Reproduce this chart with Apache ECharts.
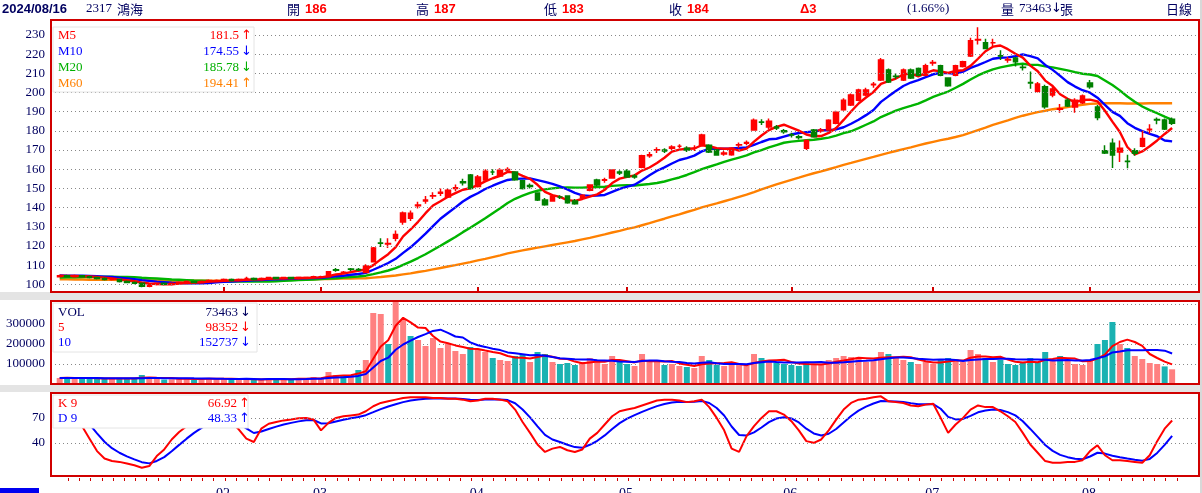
<!DOCTYPE html>
<html>
<head>
<meta charset="utf-8">
<title>2317 鴻海 日線</title>
<script src="https://cdn.jsdelivr.net/npm/echarts@6/dist/echarts.min.js"></script>
<style>
html, body { margin: 0; padding: 0; background: #fff; }
#chart { width: 1202px; height: 493px; }
</style>
</head>
<body>
<div id="chart"></div>
<script>
// 2317 鴻海 日線 2024/01/02 ~ 2024/08/16 (數值由圖上估讀)
var openP = [104,104.5,104,104.5,104,103.5,103,102.5,102.5,101.5,
    101,100.5,99,100,100.5,100,100.5,101,101.5,101,
    101.5,102,102,102.5,102,103,103,102.5,103,103.5,
    103,103.5,103,103.5,103.5,104,104,107.6,106,108,
    107.7,106.2,111.8,121.6,121,124,132.5,134.5,141,143.5,
    146,147.5,145.5,150,153.5,157,151,154.4,158.5,156.5,
    159.6,158.5,154,151.5,147.6,144,143.5,145.5,146,143.5,
    145,149,154.4,154.3,155.4,158.5,159,156.5,161,167,
    170,170,171,172,171,171,172.6,172.5,170,168,
    167.5,172.6,173.5,180.4,184.6,182,182,180,178,177,
    171,180.4,180,180.4,184,191,193.5,196,198.7,204,
    206.5,211.7,208.5,206.5,211.7,212.5,209,215.4,214,207.5,
    209,213.5,219,227.4,226,226,219.2,217,218,213.2,
    205.2,200.7,203,198.7,191.3,196,192.4,194.7,205,192.4,
    169.7,173.6,169,164.2,169.7,172,180.6,185.9,185.7,186];
var closeP = [104.5,104,104.5,104,103.5,103,102.5,102.5,101.5,101,
    100.5,99,100,100.5,100,100.5,101,101.5,101,101.5,
    102,102,102.5,102,102.5,103,102.5,103,103.5,103,
    103.5,103,103.5,103.5,104,104,106.5,107.4,106.3,107.8,
    107.5,109.5,118.9,121.4,121.3,126,137.2,137,141.3,144,
    146.2,148,149,150.3,153,150,156,159,158.5,159.5,
    159.8,154.5,150,151,144,141.5,146,145.5,142.5,142,
    146.5,151.8,151.8,154.5,159.6,158,156,156,167,167.5,
    170.2,169.5,171.6,172,170,171,177.8,169,167.4,168.5,
    171,172.8,174,185.6,184.5,185,181.5,179.5,177.8,176.5,
    175,177,180.4,185.6,189.7,196,198.7,201.3,201.3,204.3,
    217,205.5,208.3,211.7,207.5,209,214,215.6,209,203.5,
    214,216,227,227.6,223,226,219,217.2,216,213,
    205,204.4,192.6,201.8,191.5,193,196,198.2,203,187,
    168.5,167.4,171,164,168.3,176,180.8,185.7,181,184];
var lowP = [103.5,103.5,103.5,103.5,103,102.5,102,102,101,100.5,
    100,98.5,98.5,99.5,99.5,99.5,100,100.5,100.5,100.5,
    101,101.5,101.5,101.5,101.5,102.5,102,102,102.5,102.5,
    102.5,102.5,102.5,103,103,103.5,103.5,106.5,105.5,107,
    107,106,111.5,119.5,119,122.5,131,133,139.5,142,
    144.5,146,145,148.5,151.5,149.5,150.5,154,157,156,
    158.5,154,149.5,150,143.5,141,143,144.5,142,141.5,
    144.5,148.5,151,153,155,157,155.5,155,160.5,166,
    168.5,168.5,170,171,169,169.5,172,168.5,167,167,
    167,171,172.5,180,183,181,180.5,178.5,176.5,175.5,
    170,176.5,179,180,183.5,190.5,193,195.5,198,202.5,
    206,205,207,206,207,208.5,208.5,214,208.5,203,
    208.5,213,218.5,225,222.5,224,217,215.5,213.5,211.5,
    202,200,191.5,197.5,189.5,192.5,189.5,194,202,185.5,
    168,160.6,163.8,160.5,167,171.5,178.5,183.5,180.5,183];
var highP = [105,105,105,104.5,104.5,103.5,103.5,103,102.5,102,
    101.5,100.5,100.5,101,101,101,101.5,102,101.5,102,
    102.5,102.5,103,103,103,104,103.5,103.5,104,104,
    104,104,104,104,104.5,104.5,107,108.5,107,108.5,
    108.5,110.5,119.5,124,124,128,138,138.5,143,146,
    148,150,150,152,155,157.5,157,160,160,160.5,
    161,159,154.5,152.5,148,145,146.5,146.5,146.5,144.5,
    147,152,155,155.5,160,159.5,160,157.5,167.5,169,
    171.5,171,172.5,173,172,172.5,178.5,173,170.5,169.5,
    171.5,174,175,186.5,186,186.5,183,181,179,178,
    175.5,181,181.5,186,190.5,197,199.5,202,202.5,205.5,
    218,212.5,210,212.5,212.5,213,215,217,214.5,208,
    214.5,216.5,228.5,234,228,228,222,218.5,218.5,214.5,
    211,205.5,204,203,194,197,197,199,206.5,193.5,
    172.5,176,175,167.5,171,180,183.5,187,186.5,187];

var ma5 = [104.5,104.4,104.4,104.3,104.1,103.8,103.5,103.1,102.6,102.1,
    101.6,100.9,100.4,100.2,100.0,100.0,100.4,100.7,100.8,101.1,
    101.4,101.6,101.8,102.0,102.2,102.4,102.5,102.6,102.9,103.0,
    103.1,103.2,103.3,103.3,103.5,103.6,104.3,105.1,105.6,106.4,
    107.1,107.7,110.0,113.0,115.7,119.4,125.0,128.6,132.6,137.1,
    141.1,143.3,145.7,147.5,149.3,150.1,151.7,153.7,155.3,156.6,
    158.6,158.3,156.5,155.0,151.9,148.2,146.5,145.6,143.9,143.5,
    144.5,145.7,146.9,149.3,152.8,155.1,156.0,156.8,159.3,160.9,
    163.3,166.0,169.2,170.2,170.7,170.8,172.5,172.0,171.0,170.7,
    170.7,169.7,170.7,174.4,177.6,180.4,182.1,183.2,181.7,180.1,
    178.1,177.2,177.3,178.9,181.5,185.7,190.1,194.3,197.4,200.3,
    204.5,205.9,207.3,209.4,210.0,208.4,210.1,211.6,211.0,210.2,
    211.2,211.6,213.9,217.6,221.5,223.9,224.5,222.6,220.2,218.2,
    214.0,211.1,206.2,203.4,199.1,196.7,195.0,196.1,196.3,195.4,
    190.5,184.8,179.4,171.6,167.8,169.3,172.0,175.0,178.4,181.5];
var ma10 = [104.6,104.5,104.5,104.5,104.4,104.2,104.0,103.8,103.5,103.1,
    102.7,102.2,101.8,101.4,101.1,100.8,100.7,100.6,100.5,100.6,
    100.7,101.0,101.3,101.4,101.7,101.9,102.1,102.2,102.5,102.6,
    102.8,102.9,103.0,103.1,103.3,103.4,103.8,104.2,104.5,105.0,
    105.4,106.0,107.6,109.3,111.1,113.3,116.4,119.3,122.8,126.4,
    130.3,134.2,137.2,140.1,143.2,145.6,147.5,149.7,151.4,153.0,
    154.4,155.0,155.1,155.2,154.3,153.4,152.4,151.1,149.5,147.7,
    146.4,146.1,146.3,146.6,148.2,149.8,150.9,151.9,154.3,156.9,
    159.2,161.0,163.0,164.8,165.8,167.1,169.3,170.6,170.6,170.7,
    170.8,171.1,171.4,172.7,174.2,175.6,175.9,177.0,178.1,178.9,
    179.3,179.7,180.3,180.3,180.8,181.9,183.7,185.8,188.2,190.9,
    195.1,198.0,200.8,203.4,205.2,206.5,208.0,209.5,210.2,210.1,
    209.8,210.9,212.8,214.3,215.9,217.6,218.1,218.3,218.9,219.9,
    219.0,217.8,214.4,211.8,208.7,205.4,203.1,201.2,199.9,197.3,
    193.6,189.9,187.8,184.0,181.6,179.9,178.4,177.2,175.0,174.55];
var ma20 = [103.5,103.6,103.7,103.8,103.9,103.9,104.0,104.0,103.9,103.8,
    103.7,103.4,103.2,103.0,102.8,102.5,102.4,102.2,102.0,101.9,
    101.7,101.6,101.6,101.4,101.4,101.4,101.4,101.4,101.5,101.6,
    101.8,102.0,102.2,102.3,102.5,102.7,103.0,103.2,103.5,103.8,
    104.1,104.5,105.3,106.2,107.2,108.4,110.1,111.8,113.7,115.7,
    117.9,120.1,122.4,124.7,127.2,129.5,132.0,134.5,137.1,139.7,
    142.4,144.6,146.2,147.7,148.8,149.5,150.0,150.4,150.5,150.4,
    150.4,150.6,150.7,150.9,151.3,151.6,151.7,151.5,151.9,152.3,
    152.8,153.6,154.7,155.7,157.0,158.5,160.1,161.3,162.5,163.8,
    165.0,166.1,167.2,168.8,170.0,171.4,172.6,173.8,174.4,174.8,
    175.1,175.4,175.9,176.5,177.5,178.8,179.8,181.4,183.2,184.9,
    187.2,188.9,190.6,191.9,193.0,194.2,195.9,197.7,199.2,200.5,
    202.5,204.5,206.8,208.9,210.6,212.1,213.1,213.9,214.6,215.0,
    214.4,214.4,213.6,213.1,212.3,211.5,210.6,209.8,209.4,208.6,
    206.3,203.9,201.1,197.9,195.2,192.7,190.8,189.2,187.4,185.78];
var ma60 = [102.6,102.6,102.5,102.5,102.4,102.4,102.3,102.3,102.2,102.2,
    102.1,102.1,102.0,102.0,101.9,101.9,101.9,101.9,101.9,101.9,
    101.9,101.9,101.9,102.0,102.0,102.0,102.1,102.1,102.2,102.2,
    102.3,102.3,102.4,102.5,102.6,102.7,102.8,102.9,103.0,103.0,
    103.1,103.2,103.5,103.8,104.2,104.6,105.2,105.7,106.4,107.0,
    107.8,108.5,109.3,110.0,110.8,111.6,112.5,113.3,114.2,115.1,
    116.1,116.9,117.7,118.4,119.1,119.8,120.5,121.2,121.9,122.6,
    123.4,124.2,125.1,126.0,127.0,127.9,128.9,129.7,130.8,131.9,
    133.1,134.2,135.4,136.5,137.7,138.8,140.1,141.2,142.2,143.3,
    144.4,145.6,146.8,148.1,149.5,150.8,152.1,153.3,154.5,155.6,
    156.8,157.9,158.9,160.0,161.1,162.3,163.3,164.4,165.4,166.4,
    167.5,168.5,169.5,170.5,171.4,172.4,173.4,174.3,175.2,175.9,
    176.8,177.8,179.1,180.4,181.7,183.1,184.3,185.5,186.8,187.9,
    188.9,189.8,190.5,191.3,191.8,192.4,193.0,193.6,194.1,194.3,
    194.4,194.4,194.4,194.3,194.3,194.3,194.4,194.4,194.4,194.41];

// 成交量 (千張)
var vol = [30,35,28,25,30,28,25,27,30,26,
    28,45,32,25,22,24,28,30,22,24,
    28,30,25,22,20,28,22,20,30,25,
    24,22,28,30,35,30,60,45,40,45,
    70,120,355,350,200,430,320,240,220,190,
    230,180,200,165,150,185,175,160,130,120,
    115,140,150,110,160,150,110,100,105,95,
    110,130,120,100,140,110,100,90,150,120,
    110,95,100,90,85,80,140,120,95,90,
    100,95,90,150,130,120,105,100,95,90,
    110,100,95,120,130,140,135,130,110,120,
    160,150,130,120,110,100,110,100,120,130,
    125,110,170,150,130,110,120,100,95,110,
    130,110,160,115,140,120,100,95,120,200,
    220,310,200,180,140,125,105,100,88,73.463];
var volMa5 = [30,31,30,29.5,29.6,29.2,27.2,27.0,28.0,27.2,
    27.2,31.2,32.2,31.2,30.4,29.6,26.2,25.8,25.2,25.6,
    26.4,26.8,25.8,25.8,25.0,25.0,23.4,22.4,24.0,25.0,
    24.2,24.2,25.8,25.8,27.8,29.0,36.6,40.0,42.0,44.0,
    52.0,64.0,126.0,188.0,219.0,291.0,331.0,308.0,282.0,280.0,
    240.0,212.0,204.0,193.0,185.0,176.0,175.0,167.0,160.0,154.0,
    140.0,133.0,131.0,127.0,135.0,142.0,136.0,126.0,125.0,112.0,
    104.0,108.0,112.0,111.0,120.0,120.0,114.0,108.0,118.0,114.0,
    114.0,113.0,115.0,103.0,96.0,90.0,99.0,103.0,104.0,105.0,
    109.0,100.0,94.0,105.0,113.0,117.0,119.0,121.0,110.0,102.0,
    100.0,99.0,98.0,103.0,111.0,117.0,124.0,131.0,129.0,127.0,
    131.0,134.0,134.0,136.0,134.0,122.0,114.0,108.0,108.0,112.0,
    117.0,117.0,131.0,137.0,137.0,134.0,136.0,122.0,111.0,107.0,
    111.0,109.0,121.0,125.0,131.0,129.0,127.0,114.0,115.0,127.0,
    147.0,189.0,210.0,222.0,210.0,191.0,150.0,130.0,111.6,98.352];
var volMa10 = [30,30.5,30,29.8,29.8,29.6,29.1,28.5,28.8,28.4,
    28.2,29.2,29.6,29.6,28.8,28.4,28.7,29.0,28.2,28.0,
    28.0,26.5,25.8,25.5,25.3,25.7,25.1,24.1,24.9,25.0,
    24.6,23.8,24.1,24.9,26.4,26.6,30.4,32.9,33.9,35.9,
    40.5,50.3,83.0,115.0,131.5,171.5,197.5,217.0,235.0,249.5,
    265.5,271.5,256.0,237.5,232.5,208.0,193.5,185.5,176.5,169.5,
    158.0,154.0,149.0,143.5,144.5,141.0,134.5,128.5,126.0,123.5,
    123.0,122.0,119.0,118.0,116.0,112.0,111.0,110.0,114.5,117.0,
    117.0,113.5,111.5,110.5,105.0,102.0,106.0,109.0,103.5,100.5,
    99.5,99.5,98.5,104.5,109.0,113.0,109.5,107.5,107.5,107.5,
    108.5,109.0,109.5,106.5,106.5,108.5,111.5,114.5,116.0,119.0,
    124.0,129.0,132.5,132.5,130.5,126.5,124.0,121.0,122.0,123.0,
    119.5,115.5,119.5,122.5,124.5,125.5,126.5,126.5,124.0,122.0,
    122.5,122.5,121.5,118.0,119.0,120.0,118.0,117.5,120.0,129.0,
    138.0,158.0,162.0,168.5,168.5,169.0,169.5,170.0,166.8,152.737];

var kVal = [80,76,68,60,45,30,21,18,17,15,
    13,10,12,24,32,44,53,60,66,70,
    72,73,72,65,56,45,41,57,63,65,
    67,68,69.5,70,68,55,64,70,72,73,
    74,78,84,88,90,92,94,95,95,95,
    94,94,93,93,92,90,91,93,93,92,
    90,80,65,52,38,29,33,35,31,29,
    32,45,52,62,72,78,80,82,85,88,
    91,92,92,91,89,90,92,83,70,55,
    33,29,48,60,70,78,78,74,66,55,
    42,40,44,55,68,80,88,92,93,95,
    96,90,89,88,85,84,86,87,70,52,
    62,70,80,85,83,83,78,72,65,52,
    38,28,18,16,16,17,17,19,30,37,
    25,19,19,18,17,16,25,42,57,66.92];
var dVal = [82,80,76,70.7,62.1,51.4,41.3,33.5,28.0,23.7,
    20.1,16.7,15.2,18.1,22.7,29.8,37.5,45.0,52.0,58.0,
    62.7,66.1,68.1,67.1,63.4,57.3,51.8,53.6,56.7,59.5,
    62.0,64.0,65.8,67.2,67.5,63.3,63.5,65.7,67.8,69.5,
    71.0,73.3,76.9,80.6,83.7,86.5,89.0,91.0,92.3,93.2,
    93.5,93.6,93.4,93.3,92.8,91.9,91.6,92.1,92.4,92.3,
    91.5,87.7,80.1,70.7,59.8,49.5,44.0,41.0,37.7,34.8,
    33.9,37.6,42.4,48.9,56.6,63.7,69.2,73.4,77.3,80.8,
    84.2,86.8,88.5,89.4,89.2,89.5,90.3,87.9,81.9,72.9,
    59.6,49.4,48.9,52.6,58.4,64.9,69.3,70.9,69.3,64.5,
    57.0,51.3,48.9,50.9,56.6,64.4,72.3,78.8,83.6,87.4,
    90.3,90.2,89.8,89.2,87.8,86.5,86.3,86.6,81.0,71.3,
    68.2,68.8,72.5,76.7,78.8,80.2,79.5,77.0,73.0,66.0,
    56.7,47.1,37.4,30.3,25.5,22.7,20.8,20.2,23.5,28.0,
    27.0,24.3,22.5,21.0,19.7,18.5,20.6,27.8,37.5,48.33];

var monthIdx = [22, 35, 56, 76, 98, 117, 138];
var monthNames = ['02', '03', '04', '05', '06', '07', '08'];
var priceTicks = [100,110,120,130,140,150,160,170,180,190,200,210,220,230];
var kdTicks = [40, 70];

var maLegend = [['M5', '181.5', '↑', '#ff0000'], ['M10', '174.55', '↓', '#0000ff'],
                ['M20', '185.78', '↓', '#00b000'], ['M60', '194.41', '↑', '#ff8000']];
var volLegend = [['VOL', '73463', '↓', '#000060'], ['5', '98352', '↓', '#ff0000'],
                 ['10', '152737', '↓', '#0000ff']];
var kdLegend = [['K 9', '66.92', '↑', '#ff0000'], ['D 9', '48.33', '↑', '#0000ff']];

var SERIF = '"Liberation Serif","Noto Sans CJK TC",serif';
var NAVY = '#000060';
var RED = '#d00000';
var GRIDC = '#888888';
var XMIN = -1.165, XMAX = 152.6;   // 讓第一根K棒落在 x≈60
var PLOT_L = 51, PLOT_W = 1148;

function xPix(v) {
    return PLOT_L + (v - XMIN) * PLOT_W / (XMAX - XMIN);
}

var chart = echarts.init(document.getElementById('chart'));

function pairs(arr) {
    return arr.map(function (v, i) { return [i, v]; });
}

var candleData = closeP.map(function (c, i) {
    return [i, openP[i], c, lowP[i], highP[i]];
});
var volData = vol.map(function (v, i) {
    var up = i === 0 ? true : closeP[i] >= closeP[i - 1];
    return { value: [i, v], itemStyle: { color: up ? '#ff8080' : '#1ab2b2' } };
});

function dotted(vals) {
    return {
        silent: true, symbol: ['none', 'none'], animation: false,
        label: { show: false },
        lineStyle: { color: GRIDC, type: [1, 3], width: 1 },
        data: vals.map(function (v) { return { yAxis: v }; })
    };
}

function lineSeries(name, arr, color, width, xi, yi, extra) {
    var s = {
        name: name, type: 'line', data: pairs(arr), xAxisIndex: xi, yAxisIndex: yi,
        showSymbol: false, symbol: 'none', silent: true,
        lineStyle: { color: color, width: width }, z: 3
    };
    if (extra) s.markLine = extra;
    return s;
}

function legendBox(x, y, w, h, rows, rowY, valX) {
    var els = [{
        type: 'rect', shape: { x: x, y: y, width: w, height: h }, z: 100, silent: true,
        style: { fill: '#fff', stroke: '#e4e4e4', lineWidth: 1 }
    }];
    rows.forEach(function (r, i) {
        els.push({ type: 'text', x: x + 5, y: rowY[i], z: 101, silent: true,
            style: { text: r[0], fill: r[3], font: '13px ' + SERIF, verticalAlign: 'middle' } });
        els.push({ type: 'text', x: valX, y: rowY[i], z: 101, silent: true,
            style: { text: r[1], fill: r[3], font: '13px ' + SERIF, align: 'right', verticalAlign: 'middle' } });
        els.push({ type: 'text', x: valX + 2, y: rowY[i], z: 101, silent: true,
            style: { text: r[2], fill: r[3], font: '13px "DejaVu Sans",sans-serif', verticalAlign: 'middle' } });
    });
    return els;
}

function txt(x, t, color, font) {
    return { type: 'text', x: x, y: 9, silent: true,
        style: { text: t, fill: color, font: font, verticalAlign: 'middle' } };
}

var last = closeP.length - 1;
var hdrFont = '13px ' + SERIF;
var cjkFont = '13px "Noto Sans CJK TC",sans-serif';
var boldFont = 'bold 13px "Liberation Sans",sans-serif';

var graphics = [
    // 面板間灰帶
    { type: 'rect', shape: { x: 0, y: 292, width: 1202, height: 8 }, style: { fill: '#e4e4e4' }, silent: true },
    { type: 'rect', shape: { x: 0, y: 385, width: 1202, height: 7 }, style: { fill: '#e4e4e4' }, silent: true },
    { type: 'rect', shape: { x: 1200, y: 0, width: 2, height: 493 }, style: { fill: '#d8d8d8' }, silent: true },
    // 面板外框
    { type: 'rect', shape: { x: 51, y: 20, width: 1148, height: 272 }, z: 50, silent: true,
      style: { fill: null, stroke: RED, lineWidth: 2 } },
    { type: 'rect', shape: { x: 51, y: 301, width: 1148, height: 83 }, z: 50, silent: true,
      style: { fill: null, stroke: RED, lineWidth: 2 } },
    { type: 'rect', shape: { x: 51, y: 393, width: 1148, height: 83 }, z: 50, silent: true,
      style: { fill: null, stroke: RED, lineWidth: 2 } },
    { type: 'rect', shape: { x: 0, y: 488, width: 39, height: 5 }, style: { fill: '#0000f0' }, silent: true },
    // 標題列
    { type: 'text', x: 2, y: 9, silent: true, style: { text: '2024/08/16', fill: NAVY, font: boldFont, verticalAlign: 'middle' } },
    txt(86, '2317', NAVY, hdrFont),
    txt(117, '鴻海', NAVY, cjkFont),
    txt(287, '開', NAVY, cjkFont), txt(305, String(openP[last]), '#ff0000', boldFont),
    txt(416, '高', NAVY, cjkFont), txt(434, String(highP[last]), '#ff0000', boldFont),
    txt(544, '低', NAVY, cjkFont), txt(562, String(lowP[last]), '#ff0000', boldFont),
    txt(669, '收', NAVY, cjkFont), txt(687, String(closeP[last]), '#ff0000', boldFont),
    txt(800, 'Δ3', '#ff0000', boldFont),
    txt(907, '(1.66%)', NAVY, hdrFont),
    txt(1001, '量', NAVY, cjkFont),
    txt(1019, '73463', NAVY, hdrFont),
    txt(1051, '↓', NAVY, '13px "DejaVu Sans",sans-serif'),
    txt(1060, '張', NAVY, cjkFont),
    txt(1166, '日線', NAVY, cjkFont)
];
// 最底下那排小刻度 (每 1.5 根K棒一格)
for (var k = 0; k < 100; k++) {
    var tx = Math.round(xPix(1.1 + k * 1.5)) + 0.5;
    graphics.push({ type: 'line', silent: true, shape: { x1: tx, y1: 478, x2: tx, y2: 481 },
                    style: { stroke: RED, lineWidth: 1 } });
}
// 月份標籤 (下緣被裁掉一半)
monthIdx.forEach(function (m, j) {
    graphics.push({ type: 'text', x: xPix(m) - 1, y: 487, silent: true,
        style: { text: monthNames[j], fill: NAVY, font: '14px "Liberation Serif",serif',
                 align: 'center', verticalAlign: 'top' } });
});
graphics = graphics.concat(legendBox(53, 27, 201, 65, maLegend, [36, 52, 68, 84], 239));
graphics = graphics.concat(legendBox(53, 303, 204, 49, volLegend, [313, 328, 343], 238));
graphics = graphics.concat(legendBox(53, 395, 195, 33, kdLegend, [404, 419], 237));

var axisLbl = { fontFamily: 'Liberation Serif', fontSize: 13, color: NAVY, margin: 6 };

var option = {
    animation: false,
    backgroundColor: '#ffffff',
    grid: [
        { left: 51, right: 3, top: 20, bottom: 201, outerBoundsMode: 'none', containLabel: false },
        { left: 51, right: 3, top: 301, bottom: 109, outerBoundsMode: 'none', containLabel: false },
        { left: 51, right: 3, top: 393, bottom: 17, outerBoundsMode: 'none', containLabel: false }
    ],
    xAxis: [
        { type: 'value', gridIndex: 0, min: XMIN, max: XMAX,
          axisLine: { show: false }, axisLabel: { show: false }, splitLine: { show: false },
          axisTick: { show: true, inside: true, length: 5, customValues: monthIdx,
                      lineStyle: { color: RED, width: 2 } } },
        { type: 'value', gridIndex: 1, min: XMIN, max: XMAX,
          axisLine: { show: false }, axisLabel: { show: false }, splitLine: { show: false },
          axisTick: { show: false } },
        { type: 'value', gridIndex: 2, min: XMIN, max: XMAX,
          axisLine: { show: false }, splitLine: { show: false }, axisTick: { show: false },
          axisLabel: { show: false } }
    ],
    yAxis: [
        { type: 'value', gridIndex: 0, min: 96.0, max: 237.8, scale: true,
          axisLine: { show: false }, axisTick: { show: false }, splitLine: { show: false },
          axisLabel: Object.assign({ customValues: priceTicks }, axisLbl) },
        { type: 'value', gridIndex: 1, min: 0, max: 415, interval: 100,
          axisLine: { show: false }, axisTick: { show: false },
          splitLine: { show: true, lineStyle: { color: GRIDC, type: [1, 3], width: 1 } },
          axisLabel: Object.assign({ formatter: function (v) {
              return (v === 100 || v === 200 || v === 300) ? v + '000' : ''; } }, axisLbl) },
        { type: 'value', gridIndex: 2, min: 0, max: 100,
          axisLine: { show: false }, axisTick: { show: false }, splitLine: { show: false },
          axisLabel: Object.assign({ customValues: kdTicks }, axisLbl) }
    ],
    graphic: { elements: graphics },
    series: [
        lineSeries('M60', ma60, '#ff8000', 2.4, 0, 0, dotted(priceTicks)),
        lineSeries('M20', ma20, '#00b400', 2.4, 0, 0),
        lineSeries('M10', ma10, '#0000ff', 2.4, 0, 0),
        lineSeries('M5', ma5, '#ff0000', 2.4, 0, 0),
        {
            name: 'K', type: 'candlestick', xAxisIndex: 0, yAxisIndex: 0, silent: true,
            data: candleData, encode: { x: 0, y: [1, 2, 3, 4] },
            barWidth: 5, z: 4,
            itemStyle: { color: '#ff0000', color0: '#008000', borderColor: '#ff0000',
                         borderColor0: '#008000', borderWidth: 1.5 }
        },
        {
            name: 'VOL', type: 'bar', xAxisIndex: 1, yAxisIndex: 1, silent: true,
            data: volData, barWidth: 6
        },
        lineSeries('VOL5', volMa5, '#ff0000', 2, 1, 1),
        lineSeries('VOL10', volMa10, '#0000ff', 2, 1, 1),
        lineSeries('D9', dVal, '#0000ff', 2, 2, 2, dotted(kdTicks)),
        lineSeries('K9', kVal, '#ff0000', 2, 2, 2)
    ]
};

chart.setOption(option);
</script>
</body>
</html>
